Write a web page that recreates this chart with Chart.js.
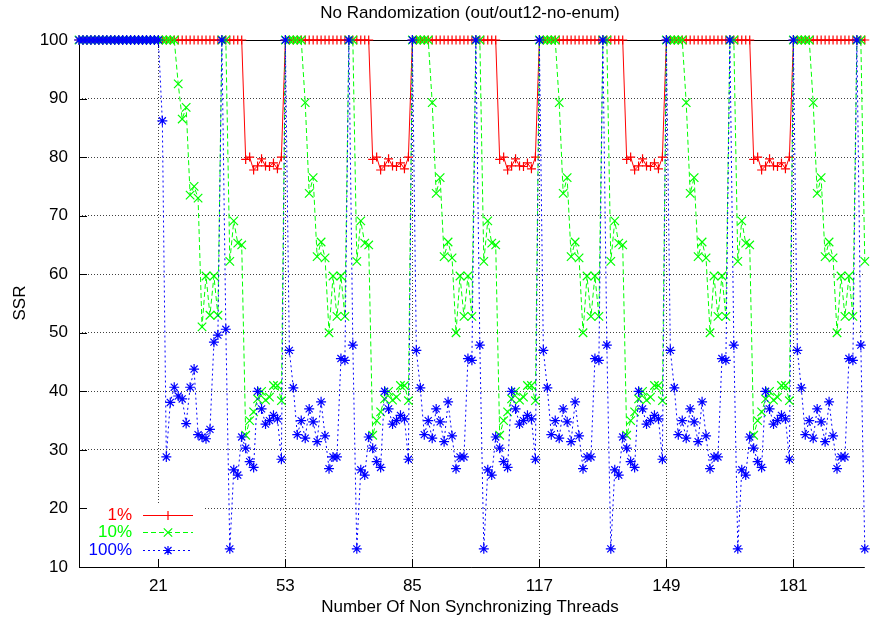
<!DOCTYPE html>
<html lang="en">
<head>
  <meta charset="UTF-8">
  <title>No Randomization (out/out12-no-enum)</title>
  <script src="https://cdn.jsdelivr.net/npm/chart.js"></script>
  <style>
    body {
      margin: 0;
      padding: 0;
      background: #fff;
      overflow: hidden;
    }

    .chart-box {
      position: relative;
      width: 872px;
      height: 624px;
    }
  </style>
</head>
<body>
  <div class="chart-box">
    <canvas id="ssrChart"></canvas>
  </div>

  <script>
    // SSR per number of non synchronizing threads (x = 1 .. 199)
    const red1pct = [
      // 1-42
      100,100,100,100,100,100,100,100,100,100,
      100,100,100,100,100,100,100,100,100,100,
      100,100,100,100,100,100,100,100,100,100,
      100,100,100,100,100,100,100,100,100,100,
      100,100,
      // 43-52
      79.6,80,77.8,78.5,79.7,78.5,78.4,79,78,80,
      // 53-74
      100,100,100,100,100,100,100,100,100,100,100,
      100,100,100,100,100,100,100,100,100,100,100,
      // 75-84
      79.6,80,77.8,78.5,79.7,78.5,78.4,79,78,80,
      // 85-106
      100,100,100,100,100,100,100,100,100,100,100,
      100,100,100,100,100,100,100,100,100,100,100,
      // 107-116
      79.6,80,77.8,78.5,79.7,78.5,78.4,79,78,80,
      // 117-138
      100,100,100,100,100,100,100,100,100,100,100,
      100,100,100,100,100,100,100,100,100,100,100,
      // 139-148
      79.6,80,77.8,78.5,79.7,78.5,78.4,79,78,80,
      // 149-170
      100,100,100,100,100,100,100,100,100,100,100,
      100,100,100,100,100,100,100,100,100,100,100,
      // 171-180
      79.6,80,77.8,78.5,79.7,78.5,78.4,79,78,80,
      // 181-199
      100,100,100,100,100,100,100,100,100,100,
      100,100,100,100,100,100,100,100,100
    ];

    const green10pct = [
      // 1-25
      100,100,100,100,100,100,100,100,100,100,
      100,100,100,100,100,100,100,100,100,100,
      100,100,100,100,100,
      // 26-36
      92.5,86.5,88.5,73.5,75,73,51,59.7,53,59.7,53,
      // 37-38
      100,100,
      // 39-52
      62.2,69.1,65.3,65,32.5,35,36.5,38.7,40,38.5,39,41,41,38.4,
      // 53-57
      100,100,100,100,100,
      // 58-68
      89.3,73.8,76.5,63,65.5,62.8,50,59.7,52.8,59.7,52.8,
      // 69-70
      100,100,
      // 71-84
      62.2,69.1,65.3,65,32.5,35,36.5,38.7,40,38.5,39,41,41,38.4,
      // 85-89
      100,100,100,100,100,
      // 90-100
      89.3,73.8,76.5,63,65.5,62.8,50,59.7,52.8,59.7,52.8,
      // 101-102
      100,100,
      // 103-116
      62.2,69.1,65.3,65,32.5,35,36.5,38.7,40,38.5,39,41,41,38.4,
      // 117-121
      100,100,100,100,100,
      // 122-132
      89.3,73.8,76.5,63,65.5,62.8,50,59.7,52.8,59.7,52.8,
      // 133-134
      100,100,
      // 135-148
      62.2,69.1,65.3,65,32.5,35,36.5,38.7,40,38.5,39,41,41,38.4,
      // 149-153
      100,100,100,100,100,
      // 154-164
      89.3,73.8,76.5,63,65.5,62.8,50,59.7,52.8,59.7,52.8,
      // 165-166
      100,100,
      // 167-180
      62.2,69.1,65.3,65,32.5,35,36.5,38.7,40,38.5,39,41,41,38.4,
      // 181-185
      100,100,100,100,100,
      // 186-196
      89.3,73.8,76.5,63,65.5,62.8,50,59.7,52.8,59.7,52.8,
      // 197-199
      100,100,62.2
    ];

    const blue100pct = [
      // 1-21
      100,100,100,100,100,100,100,100,100,100,
      100,100,100,100,100,100,100,100,100,100,
      100,
      // 22-36
      86.2,28.8,38.1,40.7,39.2,38.7,34.5,40.7,43.8,32.6,32.2,31.9,33.5,48.4,49.6,
      // 37-38
      100,50.6,
      // 39-52
      13.1,26.6,25.7,32.2,30.3,28,27,40,37,34.4,35,35.9,35.3,28.4,
      // 53
      100,
      // 54-68
      47,40.6,32.6,35,32,37,34.8,31.4,38.2,32.4,26.8,28.8,28.8,45.6,45.3,
      // 69-70
      100,47.9,
      // 71-84
      13.1,26.6,25.7,32.2,30.3,28,27,40,37,34.4,35,35.9,35.3,28.4,
      // 85
      100,
      // 86-100
      47,40.6,32.6,35,32,37,34.8,31.4,38.2,32.4,26.8,28.8,28.8,45.6,45.3,
      // 101-102
      100,47.9,
      // 103-116
      13.1,26.6,25.7,32.2,30.3,28,27,40,37,34.4,35,35.9,35.3,28.4,
      // 117
      100,
      // 118-132
      47,40.6,32.6,35,32,37,34.8,31.4,38.2,32.4,26.8,28.8,28.8,45.6,45.3,
      // 133-134
      100,47.9,
      // 135-148
      13.1,26.6,25.7,32.2,30.3,28,27,40,37,34.4,35,35.9,35.3,28.4,
      // 149
      100,
      // 150-164
      47,40.6,32.6,35,32,37,34.8,31.4,38.2,32.4,26.8,28.8,28.8,45.6,45.3,
      // 165-166
      100,47.9,
      // 167-180
      13.1,26.6,25.7,32.2,30.3,28,27,40,37,34.4,35,35.9,35.3,28.4,
      // 181
      100,
      // 182-196
      47,40.6,32.6,35,32,37,34.8,31.4,38.2,32.4,26.8,28.8,28.8,45.6,45.3,
      // 197-199
      100,47.9,13.1
    ];

    // thread counts, one per reading
    const threads = blue100pct.map((_, i) => i + 1);

    const xTicks = [21, 53, 85, 117, 149, 181];
    const yTicks = [10, 20, 30, 40, 50, 60, 70, 80, 90, 100];

    const FONT = '"Liberation Sans", Arial, sans-serif';
    const FONT_SIZE = 17;

    function points(values) {
      return values.map((v, i) => ({ x: threads[i], y: v }));
    }

    // legend rows drawn inside the plot, bottom left
    const keyRows = [
      { label: '1%', color: '#ff0000', dash: [], shape: 'plus', y: 515 },
      { label: '10%', color: '#00ff00', dash: [5, 3], shape: 'x', y: 532 },
      { label: '100%', color: '#0000ff', dash: [2, 3], shape: 'star', y: 550 }
    ];

    function drawMark(ctx, shape, x, y) {
      ctx.lineWidth = 1.2;
      ctx.beginPath();
      if (shape !== 'x') {
        ctx.moveTo(x - 4.5, y); ctx.lineTo(x + 4.5, y);
        ctx.moveTo(x, y - 4.5); ctx.lineTo(x, y + 4.5);
      }
      if (shape !== 'plus') {
        const d = shape === 'x' ? 4.2 : 3.5;
        ctx.moveTo(x - d, y - d); ctx.lineTo(x + d, y + d);
        ctx.moveTo(x - d, y + d); ctx.lineTo(x + d, y - d);
      }
      ctx.stroke();
    }

    const gnuplotFrame = {
      id: 'gnuplotFrame',
      beforeDatasetsDraw(chart) {
        const { ctx, chartArea: a, scales: { x, y } } = chart;
        ctx.save();
        // key box hides the grid behind it
        ctx.fillStyle = '#fff';
        ctx.fillRect(a.left + 1, 503, 124, a.bottom - 503);

        ctx.strokeStyle = '#000';
        ctx.lineWidth = 1;
        ctx.beginPath();
        ctx.moveTo(a.left + 0.5, a.top); ctx.lineTo(a.left + 0.5, a.bottom + 1);
        ctx.moveTo(a.left, a.bottom + 0.5); ctx.lineTo(a.right, a.bottom + 0.5);
        ctx.moveTo(a.left, a.top + 0.5); ctx.lineTo(a.right, a.top + 0.5);
        yTicks.forEach(v => {
          const py = Math.round(y.getPixelForValue(v)) + 0.5;
          ctx.moveTo(a.left, py); ctx.lineTo(a.left + 8, py);
        });
        xTicks.forEach(v => {
          const px = Math.round(x.getPixelForValue(v)) + 0.5;
          ctx.moveTo(px, a.bottom); ctx.lineTo(px, a.bottom - 8);
          ctx.moveTo(px, a.top); ctx.lineTo(px, a.top + 8);
        });
        ctx.stroke();
        ctx.restore();
      },
      afterDraw(chart) {
        const ctx = chart.ctx;
        ctx.save();
        ctx.font = FONT_SIZE + 'px ' + FONT;
        ctx.fillStyle = '#000';
        ctx.textAlign = 'center';
        ctx.textBaseline = 'middle';
        ctx.fillText('No Randomization (out/out12-no-enum)', 470, 13);
        ctx.fillText('Number Of Non Synchronizing Threads', 470, 607);

        ctx.save();
        ctx.translate(20, 303);
        ctx.rotate(-Math.PI / 2);
        ctx.fillText('SSR', 0, 0);
        ctx.restore();

        // legend
        ctx.textAlign = 'right';
        keyRows.forEach(row => {
          ctx.fillStyle = row.color;
          ctx.fillText(row.label, 132, row.y);
          ctx.strokeStyle = row.color;
          ctx.lineWidth = 1;
          ctx.setLineDash(row.dash);
          ctx.beginPath();
          ctx.moveTo(143, row.y + 0.5);
          ctx.lineTo(193, row.y + 0.5);
          ctx.stroke();
          ctx.setLineDash([]);
          drawMark(ctx, row.shape, 168, row.y + 0.5);
        });
        ctx.restore();
      }
    };

    const gridColor = 'rgba(0, 0, 0, 0.75)';

    const config = {
      type: 'line',
      data: {
        datasets: [
          {
            label: '1%',
            data: points(red1pct),
            borderColor: '#ff0000',
            borderWidth: 1,
            pointStyle: 'cross',
            pointRadius: 4.5,
            pointBorderWidth: 1.2,
            pointBorderColor: '#ff0000',
            order: 3,
            clip: false
          },
          {
            label: '10%',
            data: points(green10pct),
            borderColor: '#00ff00',
            borderWidth: 1,
            borderDash: [5, 3],
            pointStyle: 'crossRot',
            pointRadius: 6,
            pointBorderWidth: 1.2,
            pointBorderColor: '#00ff00',
            order: 2,
            clip: false
          },
          {
            label: '100%',
            data: points(blue100pct),
            borderColor: '#0000ff',
            borderWidth: 1,
            borderDash: [2, 3],
            pointStyle: 'star',
            pointRadius: 5,
            pointBorderWidth: 1.2,
            pointBorderColor: '#0000ff',
            order: 1,
            clip: false
          }
        ]
      },
      options: {
        responsive: true,
        maintainAspectRatio: false,
        animation: false,
        layout: {
          padding: { top: 40, right: 1, left: 0, bottom: 0 }
        },
        elements: {
          line: { tension: 0, fill: false }
        },
        plugins: {
          legend: { display: false },
          tooltip: { enabled: false }
        },
        scales: {
          x: {
            type: 'linear',
            min: 1,
            max: 199,
            afterBuildTicks: scale => { scale.ticks = xTicks.map(v => ({ value: v })); },
            afterFit: scale => { scale.height = 57; },
            grid: { color: gridColor, drawTicks: false },
            border: { display: false, dash: [1, 2] },
            ticks: {
              color: '#000',
              padding: 9,
              maxRotation: 0,
              font: { family: FONT, size: FONT_SIZE }
            }
          },
          y: {
            min: 10,
            max: 100,
            afterBuildTicks: scale => { scale.ticks = yTicks.map(v => ({ value: v })); },
            afterFit: scale => { scale.width = 79; },
            grid: {
              drawTicks: false,
              color: ctx => (ctx.tick && (ctx.tick.value === 10 || ctx.tick.value === 100)) ? 'rgba(0,0,0,0)' : gridColor
            },
            border: { display: false, dash: [1, 2] },
            ticks: {
              color: '#000',
              padding: 11,
              font: { family: FONT, size: FONT_SIZE }
            }
          }
        }
      },
      plugins: [gnuplotFrame]
    };

    new Chart(document.getElementById('ssrChart'), config);
  </script>
</body>
</html>
